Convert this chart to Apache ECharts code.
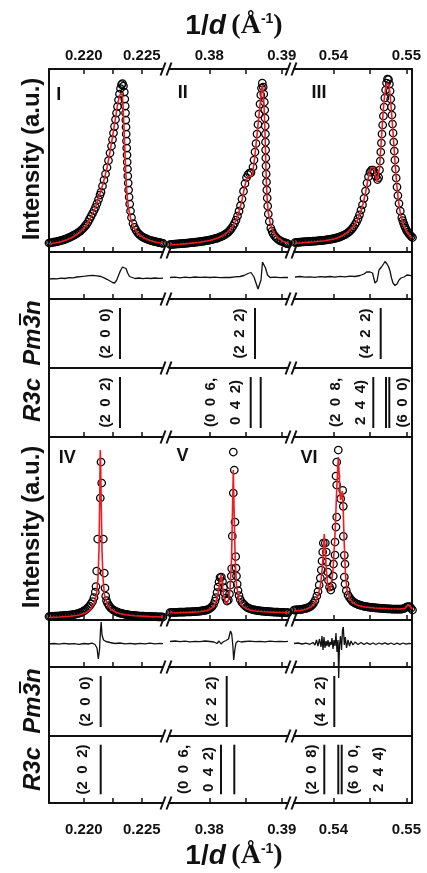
<!DOCTYPE html>
<html>
<head>
<meta charset="utf-8">
<script src="https://cdn.jsdelivr.net/npm/echarts@6/dist/echarts.min.js"></script>
<style>
  html, body { margin: 0; padding: 0; background: #fff; }
  #chart { width: 427px; height: 873px; }
</style>
</head>
<body>
<div id="chart"></div>
<script>
// ---------------- data: 1/d (Å^-1) vs intensity (a.u.) ----------------
// Sample A (upper half): observed points, fit and difference for peaks I, II, III
const obsI = [[0.217000,9],[0.217129,9.2],[0.217259,9.5],[0.217388,9.8],[0.217517,10],[0.217647,10.4],[0.217776,10.7],[0.217905,11.1],[0.218034,11.5],[0.218164,11.9],[0.218293,12.4],[0.218422,12.9],[0.218552,13.5],[0.218681,14.1],[0.218810,14.8],[0.218940,15.5],[0.219069,16.3],[0.219198,17.1],[0.219328,18],[0.219457,19],[0.219586,20],[0.219716,21.2],[0.219845,22.5],[0.219974,24],[0.220103,25.8],[0.220233,27.7],[0.220362,30],[0.220491,32.8],[0.220621,35.7],[0.220750,38.5],[0.220879,41.5],[0.221009,44.7],[0.221138,48.5],[0.221267,52.5],[0.221397,57],
  [0.221483,60],[0.221612,66],[0.221741,72],[0.221871,78],[0.222000,84.5],[0.222129,91.5],[0.222259,99],[0.222388,106],[0.222474,112.5],[0.222560,119],[0.222647,125.5],[0.222733,132.5],[0.222819,139],[0.222905,145.5],[0.222991,152],[0.223078,158],[0.223164,163.5],[0.223250,167.5],[0.223336,168.5],[0.223422,166],[0.223491,160],[0.223534,153],[0.223569,146],[0.223595,139],[0.223621,132],[0.223638,125],[0.223655,118],[0.223681,111],[0.223698,104],[0.223724,97],[0.223741,90],[0.223767,83],[0.223793,76],[0.223828,69],[0.223862,62],[0.223905,55],[0.223957,48],[0.224026,41],
  [0.224112,34.5],[0.224241,28.5],[0.224371,24.6],[0.224500,21.8],[0.224629,19.5],[0.224759,17.9],[0.224888,16.5],[0.225017,15.4],[0.225147,14.5],[0.225276,13.8],[0.225405,13.1],[0.225534,12.5],[0.225664,12],[0.225793,11.5],[0.225922,11.1],[0.226052,10.7],[0.226181,10.3],[0.226310,10],[0.226440,9.7],[0.226569,9.3],[0.226698,9],[0.226828,8.7]];
const calcI = [[0.21700,8],[0.217517,9],[0.218034,10.3],[0.218552,12.2],[0.219069,15],[0.219586,19],[0.220103,25],[0.220534,33],[0.220966,43.5],[0.221310,55],[0.221698,70],[0.222000,84],[0.222259,100],[0.222517,118],[0.222759,136],[0.222931,149],[0.223078,156],[0.223207,159],[0.223336,156],[0.223405,142],[0.223457,127],[0.223509,112],[0.223560,97],[0.223612,82],[0.223672,67],[0.223750,54],[0.223879,42],[0.224069,32],[0.224328,24],[0.224716,18],[0.225190,14],[0.225707,11.5],[0.226224,9.8],[0.226828,8.5]];
const diffI = [[0.21700,-3.5],[0.217345,-3.1],[0.217690,-3.4],[0.218034,-2.7],[0.218379,-3],[0.218724,-2.1],[0.219069,-2.4],[0.219414,-1.5],[0.219759,-1.1],[0.220103,-0.7],[0.220448,-0.1],[0.220793,0.2],[0.221138,-0.3],[0.221483,-1],[0.221741,-2.3],[0.222000,-3.8],[0.222259,-5.5],[0.222474,-7],[0.222647,-7.5],[0.222819,-5],[0.222991,0],[0.223164,5],[0.223336,8.5],[0.223491,10],[0.223638,7],[0.223784,2.5],[0.223940,-1],[0.224112,-2.5],[0.224414,-3],[0.224759,-2.5],[0.225103,-3.1],[0.225448,-2.6],[0.225793,-3],[0.226138,-2.5],[0.226483,-2.9],[0.226828,-2.7]];

const obsII = [[0.374579,7.5],[0.374786,7.6],[0.374993,7.7],[0.375200,7.85],[0.375407,8],[0.375614,8.1],[0.375821,8.2],[0.376028,8.35],[0.376234,8.5],[0.376441,8.6],[0.376648,8.7],[0.376855,8.85],[0.377062,9],[0.377269,9.15],[0.377476,9.3],[0.377683,9.45],[0.377890,9.6],[0.378097,9.8],[0.378303,10],[0.378510,10.2],[0.378717,10.4],[0.378924,10.6],[0.379131,10.8],[0.379338,11],[0.379545,11.3],[0.379752,11.5],[0.379959,11.8],[0.380166,12.1],[0.380372,12.5],[0.380579,12.9],[0.380786,13.3],[0.380993,13.7],[0.381200,14.2],[0.381407,14.8],[0.381614,15.4],[0.381821,16.1],[0.382028,16.8],[0.382234,17.8],[0.382441,18.9],[0.382648,20.2],[0.382855,21.8],[0.383062,23.7],[0.383269,26],[0.383476,28.6],[0.383683,31.8],[0.383890,36],[0.384097,40.8],[0.384303,46.3],[0.384510,53],[0.384717,60.8],[0.384924,68.5],[0.385131,74.5],[0.385338,77.5],[0.385545,78.8],[0.385752,79.4],
  [0.386028,85],[0.386166,92],[0.386303,100],[0.386441,108.5],[0.386579,118],[0.386717,127.5],[0.386855,138],[0.386993,148],[0.387103,157],[0.387200,164],[0.387310,169],[0.387434,165],[0.387517,158],[0.387586,150],[0.387641,142],[0.387683,134],[0.387710,126],[0.387738,118],[0.387752,110],[0.387766,102],[0.387793,94],[0.387821,86],[0.387848,78],[0.387890,70],[0.387931,62],[0.387986,54],[0.388055,46],[0.388138,38],
  [0.388276,30.5],[0.388483,24],[0.388648,21],[0.388786,18.5],[0.388993,16.3],[0.389200,14.5],[0.389407,13.2],[0.389683,11.7],[0.389890,10.8],[0.390166,10],[0.390372,9.4],[0.390579,8.9],[0.390717,8.5],[0.390855,8.2]];
const calcII = [[0.374579,7],[0.375959,7.7],[0.377338,8.6],[0.378717,9.7],[0.380097,11.5],[0.381200,14],[0.382028,17],[0.382717,21],[0.383269,26],[0.383752,33],[0.384166,42],[0.384510,52],[0.384786,62],[0.385062,71],[0.385310,75],[0.385545,76],[0.385931,76.5],[0.386166,89],[0.386441,107],[0.386717,127],[0.386993,147],[0.387200,162],[0.387338,167],[0.387476,157],[0.387572,142],[0.387655,127],[0.387710,112],[0.387766,97],[0.387821,82],[0.387890,67],[0.387986,52],[0.388138,39],[0.388414,28],[0.388855,19.5],[0.389476,14],[0.390166,10.8],[0.390717,9]];
const diffII = [[0.374579,-2],[0.375269,-1.7],[0.375959,-2.3],[0.376648,-1.7],[0.377338,-2.1],[0.378028,-1.5],[0.378717,-1.9],[0.379407,-1.6],[0.380097,-2],[0.380786,-1.7],[0.381476,-2.1],[0.382166,-1.8],[0.382855,-2],[0.383545,-1.3],[0.384234,-1],[0.384786,0],[0.385338,2],[0.385752,3],[0.386166,-1.5],[0.386441,-7.5],[0.386717,-13.5],[0.386924,-15],[0.387131,-4.5],[0.387338,13.5],[0.387545,14.5],[0.387752,7.5],[0.388028,0.5],[0.388372,-2],[0.389062,-1.7],[0.389752,-2.1],[0.390441,-1.8],[0.390855,-2]];

const obsIII = [[0.534740,9.5],[0.534945,9.6],[0.535151,9.7],[0.535356,9.85],[0.535562,10],[0.535767,10.1],[0.535973,10.2],[0.536178,10.3],[0.536384,10.4],[0.536589,10.5],[0.536795,10.6],[0.537000,10.7],[0.537205,10.8],[0.537411,10.9],[0.537616,11],[0.537822,11.15],[0.538027,11.3],[0.538233,11.45],[0.538438,11.6],[0.538644,11.75],[0.538849,11.9],[0.539055,12.1],[0.539260,12.3],[0.539466,12.5],[0.539671,12.8],[0.539877,13.1],[0.540082,13.4],[0.540288,13.8],[0.540493,14.2],[0.540699,14.7],[0.540904,15.2],[0.541110,15.8],[0.541315,16.5],[0.541521,17.2],[0.541726,18],[0.541932,19],[0.542137,20.1],[0.542342,21.5],[0.542548,23.2],[0.542753,25.2],[0.542959,27.5],[0.543164,30],[0.543370,33.3],[0.543575,37.2],[0.543781,42],[0.543986,47.2],[0.544192,53.7],[0.544397,61],[0.544603,69],[0.544808,75.3],[0.545014,79.8],[0.545219,81.8],[0.545425,82],[0.545630,80],[0.545836,75.6],[0.546041,72.5],
  [0.546205,74.5],[0.546315,82],[0.546411,91],[0.546493,100],[0.546575,109],[0.546658,118],[0.546753,127],[0.546849,136],[0.546945,145],[0.547041,154],[0.547151,162],[0.547274,169],[0.547411,173],[0.547548,172.5],[0.547671,168],[0.547767,161],[0.547849,153],[0.547932,145],[0.548014,137],[0.548096,128],[0.548178,119],[0.548260,110],[0.548342,101],[0.548425,92],[0.548507,83],[0.548603,74],[0.548712,65],[0.548836,56.5],[0.548986,48.5],[0.549164,41],
  [0.549370,34.5],[0.549493,31.5],[0.549603,29],[0.549740,26.3],[0.549877,24],[0.550014,21.8],[0.550178,20],[0.550329,18.4],[0.550493,17],[0.550658,15.7],[0.550836,14.5]];
const calcIII = [[0.534740,8.5],[0.536110,9.5],[0.537479,10.2],[0.538849,11.2],[0.540219,13.3],[0.541178,16],[0.542000,20],[0.542685,25],[0.543233,31],[0.543644,38],[0.544055,48],[0.544397,59],[0.544671,70],[0.544918,79],[0.545151,84.5],[0.545356,86],[0.545562,84.5],[0.545767,77],[0.545973,70.5],[0.546151,72],[0.546315,84],[0.546521,107],[0.546726,130],[0.546932,151],[0.547137,163],[0.547315,169],[0.547479,170],[0.547644,166],[0.547795,155],[0.547959,140],[0.548123,124],[0.548301,105],[0.548479,86],[0.548671,68],[0.548890,52],[0.549164,39],[0.549534,28],[0.550014,20.5],[0.550493,16],[0.550767,14.2]];
const diffIII = [[0.534740,-1.5],[0.535425,-1],[0.536110,-1.7],[0.536795,-1.3],[0.537479,-1.8],[0.538164,-1.1],[0.538849,-1.5],[0.539534,-1],[0.540219,-1.7],[0.540904,-0.9],[0.541589,-1.3],[0.542274,-0.7],[0.542959,-1],[0.543644,0],[0.544192,1.5],[0.544603,3.7],[0.545014,3.5],[0.545356,2.5],[0.545699,-7.5],[0.545973,-5.5],[0.546247,5.5],[0.546589,8.5],[0.546863,11.5],[0.547068,14],[0.547342,11.5],[0.547548,9],[0.547753,4.5],[0.547959,-2.5],[0.548164,-7.5],[0.548438,-10],[0.548712,-8.5],[0.548986,-4.5],[0.549260,-2.5],[0.549671,-1.5],[0.550082,0.5],[0.550493,0.2],[0.550767,-1]];

// Sample B (lower half): peaks IV, V, VI
const obsIV = [[0.217000,3.5],[0.217129,3.6],[0.217259,3.7],[0.217388,3.75],[0.217517,3.8],[0.217647,3.9],[0.217776,4],[0.217905,4.1],[0.218034,4.2],[0.218164,4.3],[0.218293,4.4],[0.218422,4.55],[0.218552,4.7],[0.218681,4.85],[0.218810,5],[0.218940,5.2],[0.219069,5.4],[0.219198,5.7],[0.219328,6],[0.219457,6.4],[0.219586,6.8],[0.219716,7.3],[0.219845,8],[0.219974,8.8],[0.220103,9.8],[0.220233,11],[0.220362,12.4],[0.220491,14],[0.220621,16.2],[0.220750,18.5],[0.220879,22.5],
  [0.220991,28],[0.221052,33.5],[0.221112,49],[0.221198,81],[0.221422,122],[0.221543,137],[0.221483,158],[0.221681,81],[0.221767,47],[0.221828,32],[0.221888,24],[0.221957,19.5],
  [0.222043,17],[0.222172,14.4],[0.222302,12.4],[0.222431,11],[0.222560,9.9],[0.222690,9],[0.222819,8.3],[0.222948,7.6],[0.223078,7.2],[0.223207,6.7],[0.223336,6.35],[0.223466,6],[0.223595,5.7],[0.223724,5.4],[0.223853,5.2],[0.223983,4.95],[0.224112,4.75],[0.224241,4.6],[0.224371,4.45],[0.224500,4.3],[0.224629,4.15],[0.224759,4],[0.224888,3.95],[0.225017,3.85],[0.225147,3.8],[0.225276,3.7],[0.225405,3.65],[0.225534,3.6],[0.225664,3.5],[0.225793,3.4],[0.225922,3.4],[0.226052,3.3],[0.226181,3.3],[0.226310,3.25],[0.226440,3.2],[0.226569,3.15],[0.226698,3.1],[0.226828,3]];
const calcIV = [[0.21700,2.5],[0.217948,3],[0.218810,3.7],[0.219500,4.7],[0.220103,6.7],[0.220534,10],[0.220879,16],[0.221095,25],[0.221224,42],[0.221310,70],[0.221371,120],[0.221405,160],[0.221422,170],[0.221448,160],[0.221500,120],[0.221569,70],[0.221655,42],[0.221784,25],[0.222000,16],[0.222345,10.5],[0.222862,7.3],[0.223552,5.3],[0.224414,4.2],[0.225707,3.4],[0.226828,3]];
const diffIV = [[0.21700,-0.5],[0.217431,0],[0.217862,-0.7],[0.218293,0.2],[0.218724,-0.5],[0.219155,-0.1],[0.219586,-0.8],[0.220017,0],[0.220362,-0.5],[0.220707,0.3],[0.220966,-1],[0.221138,-4.5],[0.221250,-15.5],[0.221353,-6.5],[0.221440,13.5],[0.221500,21.5],[0.221569,8.5],[0.221698,3.5],[0.221914,2],[0.222259,1],[0.222690,0],[0.223121,0.5],[0.223552,-0.3],[0.223983,0.2],[0.224414,-0.5],[0.224845,0.1],[0.225276,-0.4],[0.225707,0.3],[0.226138,-0.3],[0.226569,0.1],[0.226828,-0.2]];

const obsV = [[0.374579,7.5],[0.374786,7.55],[0.374993,7.6],[0.375200,7.65],[0.375407,7.7],[0.375614,7.75],[0.375821,7.8],[0.376028,7.85],[0.376234,7.9],[0.376441,7.95],[0.376648,8],[0.376855,8.05],[0.377062,8.1],[0.377269,8.15],[0.377476,8.2],[0.377683,8.3],[0.377890,8.4],[0.378097,8.5],[0.378303,8.6],[0.378510,8.75],[0.378717,8.9],[0.378924,9.1],[0.379131,9.3],[0.379338,9.6],[0.379545,9.9],[0.379752,10.4],[0.379959,11],[0.380166,12],[0.380372,13.4],[0.380579,15.5],
  [0.380786,19],[0.380924,22.5],[0.381062,27.5],[0.381200,33],[0.381338,38],[0.381476,42.5],[0.381655,43],[0.381821,38.5],[0.381959,32.5],[0.382097,27],[0.382262,22],[0.382441,19],[0.382621,20],[0.382786,26],[0.382924,35],[0.383034,44],[0.383090,51.5],[0.383172,84],[0.383310,127],[0.383310,168],[0.383448,150],[0.383545,98],[0.383641,63.5],[0.383683,52],[0.383752,44],[0.383848,36],[0.383959,29.5],[0.384097,24.5],[0.384276,20.5],
  [0.384510,17.5],[0.384717,15.9],[0.384924,14.4],[0.385131,13],[0.385338,12.2],[0.385545,11.5],[0.385752,11],[0.385959,10.5],[0.386166,10.1],[0.386372,9.8],[0.386579,9.5],[0.386786,9.35],[0.386993,9.2],[0.387200,9],[0.387407,8.85],[0.387614,8.7],[0.387821,8.55],[0.388028,8.45],[0.388234,8.3],[0.388441,8.2],[0.388648,8.1],[0.388855,8],[0.389062,7.9],[0.389269,7.85],[0.389476,7.8],[0.389683,7.7],[0.389890,7.6],[0.390097,7.55],[0.390303,7.5],[0.390510,7.45],[0.390717,7.4],[0.390855,7.4]];
const calcV = [[0.374579,7],[0.375959,7.3],[0.377338,7.6],[0.378717,8.2],[0.379683,9.5],[0.380372,12],[0.380855,17],[0.381200,26],[0.381448,37],[0.381614,46],[0.381779,37],[0.381959,25],[0.382166,19],[0.382400,16],[0.382648,20],[0.382855,30],[0.383062,60],[0.383200,110],[0.383310,150],[0.383421,110],[0.383572,60],[0.383752,35],[0.384028,22],[0.384441,15],[0.385062,11.3],[0.386028,9.3],[0.387407,8.2],[0.389062,7.7],[0.390855,7.4]];
const diffV = [[0.374579,2],[0.375269,2.5],[0.375959,1.8],[0.376648,2.3],[0.377338,1.7],[0.378028,2.2],[0.378717,1.9],[0.379407,2.5],[0.380097,2],[0.380648,1.5],[0.381062,0],[0.381338,2.5],[0.381614,-0.5],[0.381890,1.5],[0.382303,3],[0.382648,4.5],[0.382924,12.5],[0.383090,9.5],[0.383241,-1.5],[0.383366,-16.5],[0.383517,-6.5],[0.383683,0.5],[0.383959,2.5],[0.384372,1.5],[0.384924,2],[0.385614,2.3],[0.386303,1.8],[0.386993,2.2],[0.387683,1.7],[0.388372,2.3],[0.389062,1.9],[0.389752,2.2],[0.390441,1.8],[0.390855,2.1]];

const obsVI = [[0.534603,10],[0.534808,10.1],[0.535014,10.2],[0.535219,10.35],[0.535425,10.5],[0.535630,10.7],[0.535836,11],[0.536041,11.3],[0.536247,11.7],[0.536452,12.2],[0.536658,12.8],[0.536863,13.7],[0.537068,14.9],[0.537274,16.7],[0.537479,19.3],
  [0.537726,24],[0.537890,28.5],[0.538055,35],[0.538205,42],[0.538342,50],[0.538438,59],[0.538534,68],[0.538616,77],[0.538890,77],[0.539027,68],[0.539123,58],[0.539219,48],[0.539329,39.5],[0.539466,33],[0.539644,30],[0.539849,34],[0.539986,44],[0.540014,56],[0.540219,65],[0.540219,78],[0.540356,93],[0.540452,103],[0.540452,135],[0.540356,144],[0.540452,158],[0.540671,170],[0.541000,121.3],[0.541274,129.7],[0.541356,113.7],[0.541356,83.7],[0.541493,64.7],[0.541589,56],[0.541493,43],[0.541589,36],[0.541767,29.5],[0.542000,25],
  [0.542205,22.5],[0.542411,20.5],[0.542616,18.7],[0.542822,17.6],[0.543027,16.7],[0.543233,16],[0.543438,15.4],[0.543644,14.9],[0.543849,14.5],[0.544055,14],[0.544260,13.7],[0.544466,13.4],[0.544671,13.1],[0.544877,12.9],[0.545082,12.75],[0.545288,12.6],[0.545493,12.4],[0.545699,12.2],[0.545904,12.05],[0.546110,11.9],[0.546315,11.8],[0.546521,11.7],[0.546726,11.55],[0.546932,11.45],[0.547137,11.35],[0.547342,11.2],[0.547548,11.15],[0.547753,11.05],[0.547959,11],[0.548164,10.9],[0.548370,10.85],[0.548575,10.8],[0.548781,10.8],[0.548986,10.8],[0.549192,10.9],[0.549397,11],[0.549603,11.4],[0.549808,12],[0.550014,12.8],[0.550219,13.5],[0.550425,13.5],[0.550630,11.8],[0.550836,10]];
const calcVI = [[0.534603,9],[0.535425,9.5],[0.536247,10.7],[0.536932,13],[0.537479,17],[0.537890,24],[0.538233,35],[0.538507,54],[0.538753,86],[0.538986,55],[0.539192,36],[0.539438,29],[0.539671,34],[0.539945,50],[0.540219,85],[0.540452,130],[0.540671,163],[0.540836,140],[0.540973,120],[0.541110,123],[0.541219,129],[0.541342,110],[0.541493,75],[0.541658,45],[0.541863,30],[0.542205,21.5],[0.542685,17],[0.543370,14.5],[0.544329,13],[0.545699,12],[0.547753,11.2],[0.549123,11],[0.549808,11.7],[0.550288,15.5],[0.550630,12.5],[0.550767,11]];
const diffVI = [[0.534603,0],[0.535151,0.5],[0.535699,-0.5],[0.536247,0.3],[0.536795,-0.8],[0.537205,1],[0.537479,-1.5],[0.537685,3.5],[0.537890,-2.5],[0.538096,4.5],[0.538301,-3.5],[0.538438,7.5],[0.538575,-6.5],[0.538712,6.5],[0.538849,-4.5],[0.538986,2.5],[0.539123,-2.5],[0.539260,3.5],[0.539397,-3.5],[0.539534,1.5],[0.539671,-1.5],[0.539808,5.5],[0.539945,-5.5],[0.540082,3.5],[0.540219,-2.5],[0.540356,10.5],[0.540493,-8.5],[0.540630,3.5],[0.540726,-34.5],[0.540836,-1.5],[0.540973,7.5],[0.541110,-6.5],[0.541247,13.5],[0.541356,16.5],[0.541493,-1.5],[0.541630,6.5],[0.541795,-4.5],[0.542000,3.5],[0.542205,-2.5],[0.542411,2.5],[0.542685,-1.5],[0.542959,1.5],[0.543370,-1],[0.543781,1],[0.544192,-1],[0.544603,0.7],[0.545014,-0.8],[0.545425,0.5],[0.545836,-1],[0.546247,0.5],[0.546658,-0.7],[0.547068,0.7],[0.547479,-0.8],[0.547890,0.5],[0.548301,-1],[0.548712,0.3],[0.549123,-0.8],[0.549534,0.5],[0.549945,-0.7],[0.550356,0.1],[0.550767,-0.3]];

// Reflection positions (1/d) and their Miller-index labels ('' = shares the neighbouring label)
const pm3nTopPos = [0.223121, 0.386303, 0.546479];
const pm3nTopHkl = ['(2 0 0)', '(2 2 2)', '(4 2 2)'];
const r3cTopPos  = [0.223121, 0.385710, 0.387090, 0.545466, 0.547205, 0.547658];
const r3cTopHkl  = ['(2 0 2)', '(0 0 6,\n0 4 2)', '', '(2 0 8,\n2 4 4)', '', '(6 0 0)'];
const pm3nBotPos = [0.221457, 0.382400, 0.540123];
const pm3nBotHkl = ['(2 0 0)', '(2 2 2)', '(4 2 2)'];
const r3cBotPos  = [0.221457, 0.381614, 0.383448, 0.538753, 0.540671, 0.541137];
const r3cBotHkl  = ['(2 0 2)', '(0 0 6,\n0 4 2)', '', '(2 0 8)', '', '(6 0 0,\n2 4 4)'];

// Axis ticks and tick labels of the three broken x-axis segments
const xTicks = [[0.220, 0.2225, 0.225], [0.38, 0.385, 0.39], [0.54, 0.545, 0.55]];
const xTickLabels = [['0.220', '0.225'], ['0.38', '0.39'], ['0.54', '0.55']];
const peakNames = ['I', 'II', 'III', 'IV', 'V', 'VI'];

// ---------------- layout ----------------
const SEGMENTS = [
  { left: 49,  width: 114, min: 0.217,    max: 0.226828 },
  { left: 169, width: 119, min: 0.374441, max: 0.390855 },
  { left: 294, width: 118, min: 0.534603, max: 0.550767 }
];
// kind: int = intensity, res = difference, pm / r3 = reflection markers
const ROWS = [
  { kind: 'int', top: 69,  height: 183, yMin: 0,     yMax: 183 },
  { kind: 'res', top: 252, height: 47,  yMin: -23.5, yMax: 23.5 },
  { kind: 'pm',  top: 299, height: 69,  yMin: 0,     yMax: 1 },
  { kind: 'r3',  top: 368, height: 69,  yMin: 0,     yMax: 1 },
  { kind: 'int', top: 437, height: 183, yMin: 0,     yMax: 183 },
  { kind: 'res', top: 620, height: 47,  yMin: -23.5, yMax: 23.5 },
  { kind: 'pm',  top: 667, height: 69,  yMin: 0,     yMax: 1 },
  { kind: 'r3',  top: 736, height: 67,  yMin: 0,     yMax: 1 }
];
const FONT = '"Liberation Sans", Arial, sans-serif';
const RED = '#ee1d23';
const INK = '#111';
// horizontal pixel offsets of each Miller-index label from its marker
const LABEL_DX = {
  pmTop: [-14.5, -15, -15],
  r3Top: [-14.5, -27, 0, -25, 0, 14],
  pmBot: [-14.7, -15, -13.3],
  r3Bot: [-17.4, -24.3, 0, -12, 0, 24.8]
};

const grids = [], xAxes = [], yAxes = [], series = [];

ROWS.forEach((row, r) => {
  SEGMENTS.forEach((seg, s) => {
    const g = r * 3 + s;
    grids.push({ left: seg.left, top: row.top, width: seg.width, height: row.height, containLabel: false });
    const hasTicks = row.kind !== 'pm';
    const isLast = r === ROWS.length - 1;
    xAxes.push({
      type: 'value', gridIndex: g, min: seg.min, max: seg.max, position: 'bottom',
      axisLine: { show: true, onZero: false, lineStyle: { color: INK, width: 2 } },
      axisTick: { show: hasTicks, inside: true, length: 5, customValues: xTicks[s], lineStyle: { color: INK, width: 1.5 } },
      axisLabel: isLast ? {
        show: true, customValues: xTickLabels[s].map(Number), margin: 19,
        formatter: v => xTickLabels[s].find(t => Number(t) === v) || '',
        fontFamily: FONT, fontWeight: 'bold', fontSize: 15, color: INK
      } : { show: false },
      splitLine: { show: false }
    });
    yAxes.push({
      type: 'value', gridIndex: g, min: row.yMin, max: row.yMax,
      position: s === 2 ? 'right' : 'left',
      axisLine: { show: s !== 1, onZero: false, lineStyle: { color: INK, width: 2 } },
      axisTick: { show: false }, axisLabel: { show: false }, splitLine: { show: false }
    });
  });
});

// top axis with tick labels over the first row
SEGMENTS.forEach((seg, s) => {
  xAxes.push({
    type: 'value', gridIndex: s, min: seg.min, max: seg.max, position: 'top',
    axisLine: { show: true, onZero: false, lineStyle: { color: INK, width: 2 } },
    axisTick: { show: true, inside: true, length: 5, customValues: xTicks[s], lineStyle: { color: INK, width: 1.5 } },
    axisLabel: {
      show: true, customValues: xTickLabels[s].map(Number), margin: 6,
      formatter: v => xTickLabels[s].find(t => Number(t) === v) || '',
      fontFamily: FONT, fontWeight: 'bold', fontSize: 15, color: INK
    },
    splitLine: { show: false }
  });
});

const profiles = [
  { row: 0, obs: [obsI, obsII, obsIII], calc: [calcI, calcII, calcIII], diff: [diffI, diffII, diffIII] },
  { row: 4, obs: [obsIV, obsV, obsVI], calc: [calcIV, calcV, calcVI], diff: [diffIV, diffV, diffVI] }
];
profiles.forEach(p => {
  for (let s = 0; s < 3; s++) {
    const gi = p.row * 3 + s, gd = (p.row + 1) * 3 + s;
    series.push({
      type: 'scatter', xAxisIndex: gi, yAxisIndex: gi, data: p.obs[s], clip: false,
      symbol: 'circle', symbolSize: 7.5, silent: true, z: 2,
      itemStyle: { color: 'rgba(0,0,0,0)', borderColor: '#000', borderWidth: 1.25, opacity: 1 }
    });
    series.push({
      type: 'line', xAxisIndex: gi, yAxisIndex: gi, data: p.calc[s], showSymbol: false, clip: false,
      silent: true, z: 3, lineStyle: { color: RED, width: 1.6 }
    });
    series.push({
      type: 'line', xAxisIndex: gd, yAxisIndex: gd, data: p.diff[s], showSymbol: false, clip: false,
      silent: true, z: 3, lineStyle: { color: INK, width: 1.3 }
    });
  }
});

// reflection markers and Miller-index labels
const tickPanels = [
  { row: 2, pos: pm3nTopPos, hkl: pm3nTopHkl, dx: LABEL_DX.pmTop },
  { row: 3, pos: r3cTopPos,  hkl: r3cTopHkl,  dx: LABEL_DX.r3Top },
  { row: 6, pos: pm3nBotPos, hkl: pm3nBotHkl, dx: LABEL_DX.pmBot },
  { row: 7, pos: r3cBotPos,  hkl: r3cBotHkl,  dx: LABEL_DX.r3Bot }
];
tickPanels.forEach(tp => {
  SEGMENTS.forEach((seg, s) => {
    const g = tp.row * 3 + s;
    const idx = tp.pos.map((x, i) => i).filter(i => tp.pos[i] >= seg.min && tp.pos[i] <= seg.max);
    series.push({
      type: 'custom', xAxisIndex: g, yAxisIndex: g, silent: true, clip: false,
      data: idx.map(i => [tp.pos[i], 0.5]),
      renderItem: (params, api) => {
        const x = api.value(0);
        const p0 = api.coord([x, 0.13]), p1 = api.coord([x, 0.87]);
        return { type: 'line', shape: { x1: p0[0], y1: p0[1], x2: p1[0], y2: p1[1] },
                 style: { stroke: INK, lineWidth: 2 } };
      }
    });
    const lab = idx.filter(i => tp.hkl[i]);
    series.push({
      type: 'custom', xAxisIndex: g, yAxisIndex: g, silent: true, clip: false,
      data: lab.map(i => [tp.pos[i], 0.5]),
      renderItem: (params, api) => {
        const i = lab[params.dataIndex];
        const p = api.coord([api.value(0), 0.5]);
        return { type: 'text', x: p[0] + tp.dx[i], y: p[1], rotation: Math.PI / 2,
                 style: { text: tp.hkl[i].replace(/ /g, '\u2002'), font: 'bold 15px ' + FONT,
                          align: 'center', verticalAlign: 'middle', fill: INK, lineHeight: 25 } };
      }
    });
  });
});

// ---------------- decorations ----------------
const graphics = [];
// axis-break marks on every horizontal frame line
const frameLines = [69, 252, 299, 368, 437, 620, 667, 736, 803];
const breakCentres = [(SEGMENTS[0].left + SEGMENTS[0].width + SEGMENTS[1].left) / 2,
                      (SEGMENTS[1].left + SEGMENTS[1].width + SEGMENTS[2].left) / 2];
frameLines.forEach(y => breakCentres.forEach(c => {
  [-3, 3].forEach(off => graphics.push({
    type: 'line', z: 50, silent: true,
    shape: { x1: c + off - 2.5, y1: y + 6.5, x2: c + off + 2.5, y2: y - 6.5 },
    style: { stroke: INK, lineWidth: 2 }
  }));
}));

// peak labels
const peakLabelPos = [[58.7, 95.5], [182.7, 93], [319, 93], [67.3, 458], [182.5, 456], [309, 458]];
peakNames.forEach((t, i) => graphics.push({
  type: 'text', x: peakLabelPos[i][0], y: peakLabelPos[i][1], silent: true,
  style: { text: t, font: 'bold 18px ' + FONT, align: 'center', verticalAlign: 'middle', fill: INK }
}));

// axis titles
const titleRich = {
  n: { fontFamily: FONT, fontWeight: 'bold', fontSize: 28, fill: INK },
  i: { fontFamily: FONT, fontWeight: 'bold', fontStyle: 'italic', fontSize: 28, fill: INK },
  p: { fontFamily: '"Liberation Serif", serif', fontWeight: 'bold', fontSize: 28, fill: INK },
  s: { fontFamily: FONT, fontWeight: 'bold', fontSize: 14, fill: INK, verticalAlign: 'top' }
};
[26, 856].forEach(y => graphics.push({
  type: 'text', x: 234, y: y, silent: true,
  style: { text: '{n|1/}{i|d}{p|\u2009(Å}{s|-1}{p|)}', rich: titleRich, align: 'center', verticalAlign: 'middle' }
}));
[159, 527].forEach(y => graphics.push({
  type: 'text', x: 32, y: y, rotation: Math.PI / 2, silent: true,
  style: { text: 'Intensity (a.u.)', font: 'bold 24px ' + FONT, align: 'center', verticalAlign: 'middle', fill: INK }
}));

// phase labels: Pm-3n (with bar over the 3) and R3c
const symFont = 'italic bold 24px ' + FONT;
const ctx = document.createElement('canvas').getContext('2d');
ctx.font = symFont;
const wAll = ctx.measureText('Pm3n').width, wPm = ctx.measureText('Pm').width, w3 = ctx.measureText('3').width;
[333, 701].forEach(y => graphics.push({
  type: 'group', x: 33.5, y: y, rotation: Math.PI / 2, silent: true,
  children: [
    { type: 'text', style: { text: 'Pm3n', font: symFont, align: 'center', verticalAlign: 'middle', fill: INK } },
    { type: 'line', shape: { x1: -wAll / 2 + wPm + 3, y1: -13.5, x2: -wAll / 2 + wPm + w3 + 1.5, y2: -13.5 },
      style: { stroke: INK, lineWidth: 2 } }
  ]
}));
[400, 769].forEach(y => graphics.push({
  type: 'text', x: 33.5, y: y, rotation: Math.PI / 2, silent: true,
  style: { text: 'R3c', font: symFont, align: 'center', verticalAlign: 'middle', fill: INK }
}));

const chart = echarts.init(document.getElementById('chart'), null, { renderer: 'canvas', width: 427, height: 873 });
chart.setOption({
  animation: false,
  backgroundColor: '#fff',
  grid: grids,
  xAxis: xAxes,
  yAxis: yAxes,
  series: series,
  graphic: { elements: graphics }
});
</script>
</body>
</html>
